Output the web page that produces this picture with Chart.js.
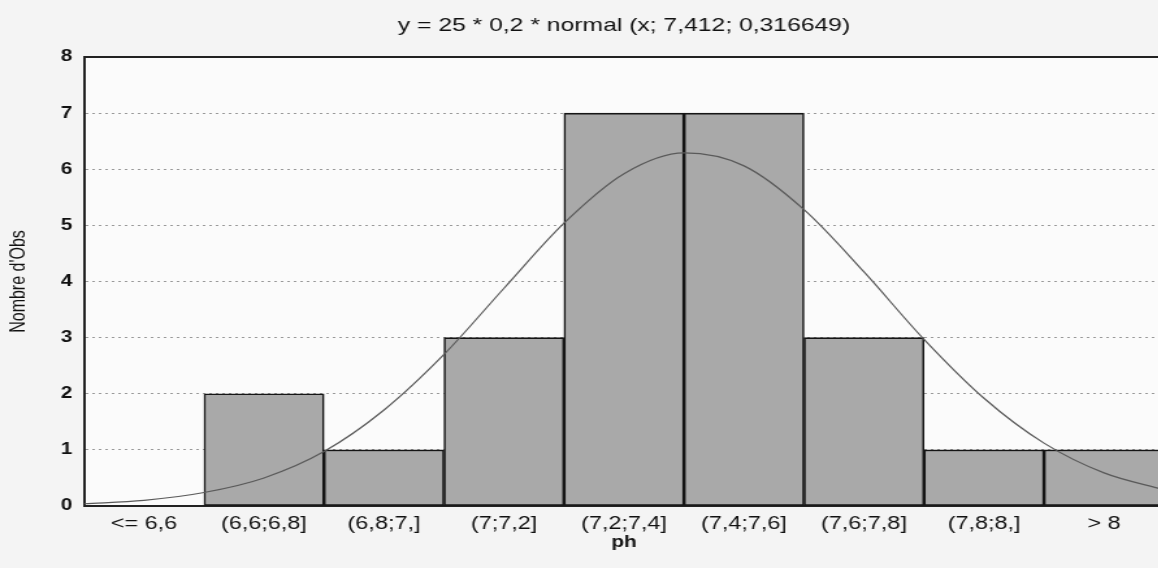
<!DOCTYPE html>
<html>
<head>
<meta charset="utf-8">
<script src="https://cdn.jsdelivr.net/npm/chart.js@4/dist/chart.umd.min.js"></script>
<style>
  html, body { margin: 0; padding: 0; overflow: hidden; background: #f4f4f4; width: 1158px; height: 568px; }
  #wrap { position: absolute; left: 0; top: 0; width: 900px; height: 568px; transform: scaleX(1.3); transform-origin: 0 0; }
  canvas { display: block; }
</style>
</head>
<body>
<div id="wrap"><canvas id="histo" width="900" height="568" style="width:900px;height:568px"></canvas></div>
<script>
const categories = ["<= 6,6", "(6,6;6,8]", "(6,8;7,]", "(7;7,2]", "(7,2;7,4]", "(7,4;7,6]", "(7,6;7,8]", "(7,8;8,]", "> 8"];
const counts = [0, 2, 1, 3, 7, 7, 3, 1, 1];

// fitted curve, every 0.1 of ph
const curveX = [6.4, 6.5, 6.6, 6.7, 6.8, 6.9, 7.0, 7.1, 7.2, 7.3, 7.4, 7.5, 7.6, 7.7, 7.8, 7.9, 8.0, 8.1, 8.2];
const curveY = [0.04, 0.10, 0.24, 0.50, 0.97, 1.71, 2.70, 3.88, 5.04, 5.92, 6.29, 6.06, 5.28, 4.17, 2.97, 1.92, 1.12, 0.59, 0.29];

const yTicks = [0, 1, 2, 3, 4, 5, 6, 7, 8];

const SX = 1.3; // the scan is stretched sideways
const FONT = "'Liberation Sans', Arial, sans-serif";

const plotBg = {
  id: "plotBg",
  beforeDraw(chart){
    const a = chart.chartArea, ctx = chart.ctx;
    ctx.save();
    ctx.fillStyle = "#fbfbfb";
    ctx.fillRect(a.left, a.top, a.right - a.left, a.bottom - a.top);
    ctx.restore();
  }
};

const ctx = document.getElementById("histo").getContext("2d");
new Chart(ctx, {
  type: "bar",
  data: {
    labels: categories,
    datasets: [
      {
        type: "line",
        data: curveX.map((x, i) => ({ x: x, y: curveY[i] })),
        xAxisID: "xLine",
        yAxisID: "y",
        borderColor: "#5a5a5a",
        borderWidth: 1.2,
        pointRadius: 0,
        tension: 0.4,
        cubicInterpolationMode: "monotone",
        fill: false,
        order: 0
      },
      {
        type: "bar",
        data: counts,
        xAxisID: "x",
        yAxisID: "y",
        backgroundColor: "#a9a9a9",
        borderColor: "#151515",
        borderWidth: 1.6,
        borderSkipped: false,
        barPercentage: 1,
        categoryPercentage: 1,
        grouped: false,
        order: 1
      }
    ]
  },
  options: {
    responsive: false,
    animation: false,
    devicePixelRatio: 1,
    layout: { padding: { left: 0, right: 900 - 1164 / SX, top: 0, bottom: 0 } },
    plugins: {
      legend: { display: false },
      tooltip: { enabled: false },
      title: {
        display: true,
        fullSize: false,
        text: "y = 25 * 0,2 * normal (x; 7,412; 0,316649)",
        color: "#111",
        font: { family: FONT, size: 19, weight: "normal" },
        padding: { top: 14.6, bottom: 19.6 }
      }
    },
    scales: {
      x: {
        type: "category",
        position: "bottom",
        offset: true,
        grid: { display: false, drawTicks: false },
        border: { display: true, color: "#222", width: 2 },
        ticks: { color: "#111", font: { family: FONT, size: 18 }, padding: 7, maxRotation: 0, autoSkip: false },
        title: { display: true, text: "ph", color: "#111", font: { family: FONT, size: 16, weight: "bold" }, padding: { top: 0, bottom: 15.6 } },
        afterFit(scale){ scale.height = 62; }
      },
      xTop: {
        type: "category",
        position: "top",
        grid: { display: false, drawTicks: false },
        border: { display: true, color: "#222", width: 2 },
        ticks: { display: false },
        afterFit(scale){ scale.height = 0; }
      },
      xLine: {
        type: "linear",
        display: false,
        offset: false,
        grid: { offset: false },
        min: 6.4,
        max: 8.2
      },
      y: {
        min: 0,
        max: 8,
        afterBuildTicks(scale){ scale.ticks = yTicks.map(v => ({ value: v })); },
        grid: {
          drawTicks: false,
          color: (c) => (c.tick.value === 0 || c.tick.value === 8) ? "rgba(0,0,0,0)" : "#9a9a9a",
          lineWidth: 1
        },
        border: { display: true, color: "#222", width: 2, dash: [2, 3] },
        ticks: { color: "#111", font: { family: FONT, size: 16, weight: "bold" }, padding: 9 },
        title: { display: true, text: "Nombre d'Obs", color: "#111", font: { family: FONT, size: 16 }, padding: { top: 4.5, bottom: 0 } },
        afterFit(scale){ scale.width = 84 / SX; }
      }
    }
  },
  plugins: [plotBg]
});
</script>
</body>
</html>
